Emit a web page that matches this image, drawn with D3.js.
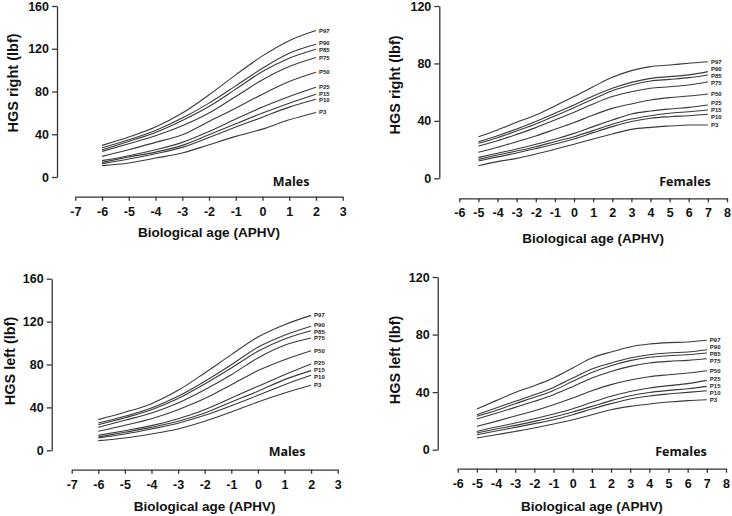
<!DOCTYPE html>
<html><head><meta charset="utf-8">
<script src="https://cdn.jsdelivr.net/npm/d3@7"></script>
<style>
html,body{margin:0;padding:0;background:#fff;}
svg{display:block;}
</style></head>
<body>
<svg id="chart" width="732" height="516"></svg>
<script>
// ---------- data ----------
const percentiles = ["P3","P10","P15","P25","P50","P75","P85","P90","P97"];
const maleAges = [-6,-5,-4,-3,-2,-1,0,1,2];
const femaleAges = [-5,-4,-3,-2,-1,0,1,2,3,4,5,6,7];
const maleXTicks = [-7,-6,-5,-4,-3,-2,-1,0,1,2,3];
const femaleXTicks = [-6,-5,-4,-3,-2,-1,0,1,2,3,4,5,6,7,8];
const maleYTicks = [0,40,80,120,160];
const femaleYTicks = [0,40,80,120];

// rows follow the order of `percentiles`
const maleRight = [
  [10.6,13.1,17.7,22.4,30.2,38.0,44.8,53.5,60.4],
  [12.5,16.8,21.8,27.7,37.0,46.7,56.0,65.4,72.8],
  [13.7,18.7,23.3,29.6,39.5,49.8,59.8,69.1,77.5],
  [15.3,19.9,25.5,32.4,42.6,54.2,65.4,75.3,84.0],
  [19.3,25.5,32.4,39.5,52.0,64.4,77.5,89.3,98.0],
  [24.0,31.1,38.6,47.9,59.8,75.3,90.9,103.3,111.8],
  [25.5,33.3,41.7,52.9,66.0,82.2,98.7,111.1,119.5],
  [27.4,34.9,43.6,55.1,69.1,85.3,101.8,115.8,124.2],
  [29.6,37.4,46.7,59.8,76.9,95.6,113.3,127.6,137.0]
];
const femaleRight = [
  [8.8,11.6,13.9,16.9,20.2,23.7,27.4,30.9,34.1,35.5,36.4,37.1,37.1],
  [12.1,14.9,17.6,20.7,23.9,27.4,31.8,36.0,39.5,41.8,42.9,43.6,44.6],
  [13.2,16.2,19.0,22.0,25.5,29.0,33.2,37.6,41.3,43.6,45.3,46.4,47.6],
  [14.6,17.4,20.4,23.7,27.2,31.3,36.0,40.6,44.8,46.9,48.3,49.4,51.1],
  [18.1,21.6,25.5,29.5,34.1,38.8,44.1,48.7,51.8,54.5,56.2,57.3,58.7],
  [22.5,26.2,30.6,35.3,40.6,46.0,51.8,56.9,60.3,62.7,63.8,65.0,67.3],
  [24.4,28.3,33.0,37.8,43.4,49.2,55.2,61.0,65.0,67.8,68.9,70.1,72.0],
  [25.5,29.7,34.4,39.5,45.3,51.1,57.3,62.7,66.8,69.6,70.8,72.0,74.3],
  [29.0,33.7,39.0,44.1,50.4,56.9,63.8,70.3,75.0,77.8,78.9,80.1,81.2]
];
const maleLeft = [
  [9.0,11.5,15.2,19.9,27.0,35.7,45.0,53.4,60.6],
  [11.5,15.2,19.9,25.2,32.6,41.6,51.3,61.2,69.9],
  [12.4,16.8,21.4,27.0,34.8,45.0,55.0,65.9,74.3],
  [14.0,18.3,23.0,29.5,37.9,48.8,59.7,70.5,80.5],
  [17.7,23.3,29.5,37.9,48.2,61.2,74.3,84.5,92.9],
  [21.4,28.0,34.8,44.1,56.5,70.5,86.1,97.9,104.7],
  [23.9,30.4,37.9,48.2,61.8,76.7,92.3,103.8,111.5],
  [25.5,31.7,39.5,50.3,64.3,79.8,96.0,107.2,115.6],
  [28.6,35.4,43.5,55.9,72.1,89.2,105.6,117.1,125.8]
];
const femaleLeft = [
  [8.1,10.4,12.7,15.1,17.8,20.8,24.3,27.8,30.1,31.7,33.1,34.1,34.7],
  [10.4,13.0,15.5,18.1,20.8,24.3,28.3,32.0,35.2,37.3,38.7,39.8,41.0],
  [11.6,14.4,16.9,19.7,22.7,26.2,30.1,34.1,37.5,39.8,41.2,42.4,44.0],
  [12.7,15.8,18.5,21.5,24.8,28.5,32.9,37.1,40.5,42.9,44.5,45.9,48.2],
  [16.2,19.7,23.4,27.1,31.3,35.9,41.0,45.2,48.4,50.7,52.1,53.3,54.9],
  [21.3,25.3,29.4,33.6,38.2,43.8,49.8,54.4,57.9,60.2,61.4,62.1,63.2],
  [23.2,27.3,32.0,36.4,41.2,47.5,53.7,58.4,61.9,64.2,65.3,66.0,67.2],
  [24.3,29.0,33.6,38.2,43.3,49.8,56.1,60.2,63.7,66.0,67.2,67.9,69.5],
  [28.3,34.1,39.8,44.5,49.8,56.8,63.7,67.9,71.4,73.4,74.4,74.8,76.0]
];

// ---------- layout ----------
const panels = [
  {ages: maleAges, values: maleRight, xTicks: maleXTicks, yTicks: maleYTicks,
   yAxisX: 57, yRange: [177, 6], xRange: [75.3, 342.7], xAxisY: 196.7,
   yTitle: "HGS right (lbf)", yTitlePos: [13, 83], xTitleY: 237, sex: "Males", sexPos: [291, 186]},
  {ages: femaleAges, values: femaleRight, xTicks: femaleXTicks, yTicks: femaleYTicks,
   yAxisX: 439.3, yRange: [178.3, 6], xRange: [459.3, 727], xAxisY: 198.3,
   yTitle: "HGS right (lbf)", yTitlePos: [395, 85], xTitleY: 242.5, sex: "Females", sexPos: [685, 186]},
  {ages: maleAges, values: maleLeft, xTicks: maleXTicks, yTicks: maleYTicks,
   yAxisX: 51.7, yRange: [450.3, 278.7], xRange: [71.7, 337.7], xAxisY: 469.7,
   yTitle: "HGS left (lbf)", yTitlePos: [10, 361], xTitleY: 511, sex: "Males", sexPos: [287, 456]},
  {ages: femaleAges, values: femaleLeft, xTicks: femaleXTicks, yTicks: femaleYTicks,
   yAxisX: 437.7, yRange: [449.7, 277], xRange: [457.7, 726], xAxisY: 468.7,
   yTitle: "HGS left (lbf)", yTitlePos: [395, 360], xTitleY: 511, sex: "Females", sexPos: [681, 456]}
];

const svg = d3.select("#chart");
const axisColor = "#333";
const lineColor = "#3a3a3a";
const font = "'Liberation Sans', Arial, sans-serif";

panels.forEach(p => {
  const g = svg.append("g");
  const x = d3.scaleLinear().domain([p.xTicks[0], p.xTicks[p.xTicks.length-1]]).range(p.xRange);
  const y = d3.scaleLinear().domain([0, p.yTicks[p.yTicks.length-1]]).range(p.yRange);

  // y axis
  const ya = g.append("g").attr("transform", `translate(${p.yAxisX},0)`)
    .call(d3.axisLeft(y).tickValues(p.yTicks).tickSize(5).tickSizeOuter(0).tickPadding(3).tickFormat(d3.format("d")));
  // x axis
  const xa = g.append("g").attr("transform", `translate(0,${p.xAxisY})`)
    .call(d3.axisBottom(x).tickValues(p.xTicks).tickSize(4).tickSizeOuter(0).tickPadding(6).tickFormat(d3.format("d")));
  [ya, xa].forEach(a => {
    a.select(".domain").attr("stroke", axisColor).attr("stroke-width", 1.3);
    a.selectAll(".tick line").attr("stroke", axisColor).attr("stroke-width", 1.3);
    a.selectAll(".tick text").attr("fill", "#111").attr("font-family", font)
      .attr("font-weight", "bold").attr("font-size", 12.5);
  });
  xa.selectAll(".tick text").text(d => d < 0 ? "-" + Math.abs(d) : d);

  // lines
  const line = d3.line().x((d, i) => x(p.ages[i])).y(d => y(d)).curve(d3.curveMonotoneX);
  g.selectAll("path.pct").data(p.values).enter().append("path")
    .attr("class", "pct").attr("d", line).attr("fill", "none")
    .attr("stroke", lineColor).attr("stroke-width", 1.1);

  // percentile labels with simple de-overlap
  const lastX = x(p.ages[p.ages.length-1]) + 3;
  const ys = p.values.map(v => y(v[v.length-1]));
  const minGap = 6.8;
  const adj = ys.slice();
  for (let it = 0; it < 30; it++) {
    for (let i = 0; i < adj.length - 1; i++) {
      const gap = adj[i] - adj[i+1];
      if (gap < minGap) {
        const d = (minGap - gap) / 2;
        adj[i] += d; adj[i+1] -= d;
      }
    }
  }
  g.selectAll("text.pl").data(percentiles).enter().append("text")
    .attr("class", "pl").attr("x", lastX).attr("y", (d, i) => adj[i])
    .attr("dominant-baseline", "central")
    .attr("font-family", font).attr("font-weight", "bold").attr("font-size", 6)
    .attr("fill", "#222").text(d => d);

  // titles
  g.append("text").attr("x", (p.xRange[0] + p.xRange[1]) / 2).attr("y", p.xTitleY)
    .attr("text-anchor", "middle").attr("font-family", font).attr("font-weight", "bold")
    .attr("font-size", 13.5).attr("fill", "#111").text("Biological age (APHV)");
  g.append("text").attr("transform", `translate(${p.yTitlePos[0]},${p.yTitlePos[1]}) rotate(-90)`)
    .attr("text-anchor", "middle").attr("dominant-baseline", "central")
    .attr("font-family", font).attr("font-weight", "bold")
    .attr("font-size", 14.5).attr("fill", "#111").text(p.yTitle);
  g.append("text").attr("x", p.sexPos[0]).attr("y", p.sexPos[1])
    .attr("text-anchor", "middle").attr("font-family", "'Open Sans', sans-serif").attr("font-weight", "bold")
    .attr("font-size", 12.5).attr("fill", "#111").text(p.sex);
});
</script>
</body></html>
